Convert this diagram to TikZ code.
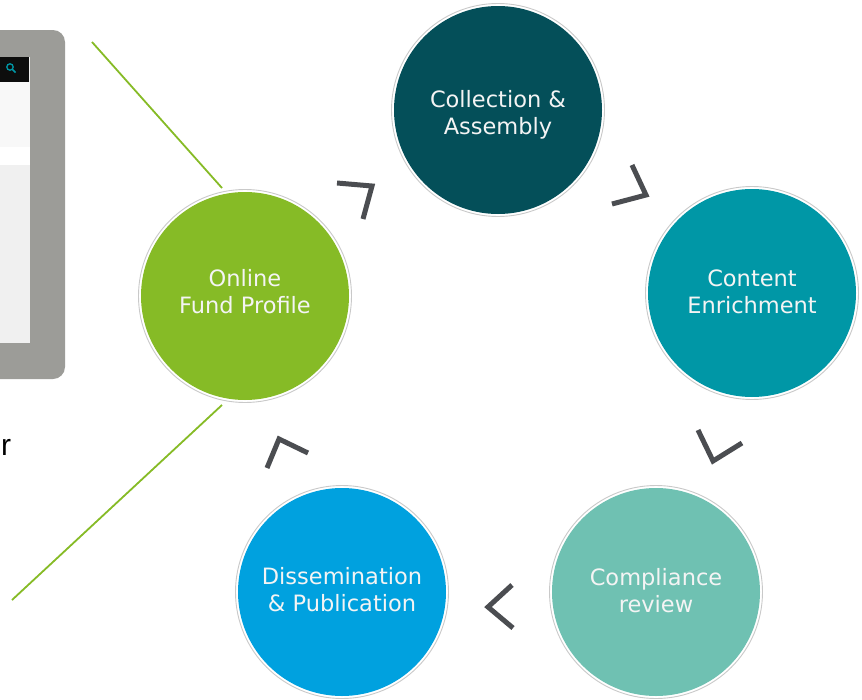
\documentclass[tikz,border=0pt]{standalone}
\usepackage{fontspec}
\newfontfamily\dv{DejaVu Sans}
\newfontfamily\lib{Liberation Sans}
\definecolor{cColl}{HTML}{044F59}
\definecolor{cEnr}{HTML}{0097A6}
\definecolor{cComp}{HTML}{6FC1B2}
\definecolor{cDis}{HTML}{00A1DF}
\definecolor{cOfp}{HTML}{86BB26}
\definecolor{cChev}{HTML}{4B4D51}
\definecolor{cTab}{HTML}{9C9C98}
\definecolor{cScr}{HTML}{F0F0F0}
\definecolor{cScrTop}{HTML}{F8F8F8}
\definecolor{cRing}{HTML}{C9C9C9}
\definecolor{cTxt}{HTML}{F4F4F4}
\tikzset{
  stage/.style={circle, minimum size=208pt, inner sep=0pt},
  stagetext/.style={inner sep=0pt, align=center, text=cTxt,
    font=\dv\fontsize{22.5}{27}\selectfont},
  ring/.style={draw=cRing, line width=0.9pt},
  chev/.style={draw=cChev, line width=5pt, line cap=butt, line join=miter},
  zoomline/.style={draw=cOfp, line width=1.8pt}
}
\begin{document}
\begin{tikzpicture}[x=1pt,y=-1pt]
\useasboundingbox (0,0) rectangle (862,699);
\fill[white] (0,0) rectangle (862,699);
% tablet
\fill[cTab, rounded corners=12pt] (-30,30) rectangle (65,379);
\fill[cScr] (-10,57) rectangle (30,343);
\fill[cScrTop] (-10,82) rectangle (30,147);
\fill[black!95] (-10,57) rectangle (29,82);
\fill[white] (-10,147) rectangle (30,165);
\draw[cEnr, line width=1.3pt] (10,67) circle (3.2pt);
\draw[cEnr, line width=1.6pt] (12.5,69.5) -- (15.5,72.5);
% partial text
\node[anchor=base west, inner sep=0pt, font=\lib\fontsize{30}{36}\selectfont] (rtxt) at (1,455) {r};
% circles
\node[stage, fill=cColl] (coll) at (498,110) {};
\node[stage, fill=cEnr] (enr) at (752,293) {};
\node[stage, fill=cComp] (comp) at (656,592) {};
\node[stage, fill=cDis] (dis) at (342,592) {};
\node[stage, fill=cOfp] (ofp) at (245,296) {};
\foreach \n in {coll,enr,comp,dis,ofp}
  \draw[ring] (\n.center) circle (106.5pt);
\node[stagetext] (collT) at (498,115) {Collection \&\\Assembly};
\node[stagetext] (enrT) at (752,292) {Content\\Enrichment};
\node[stagetext] (compT) at (656,591) {Compliance\\review};
\node[stagetext] (disT) at (342,590) {Dissemination\\\& Publication};
\node[stagetext] (ofpT) at (245,292) {Online\\Fund Profile};
% zoom lines
\coordinate (za) at (92,42);
\coordinate (zb) at (12,600);
\coordinate (ofpTop) at (222,188);
\coordinate (ofpBot) at (222,405);
\draw[zoomline] (za) -- (ofpTop);
\draw[zoomline] (zb) -- (ofpBot);
% chevrons
\draw[chev] (337,183) -- (372,186) -- (363,219);
\draw[chev] (632,165) -- (646,195) -- (612,204);
\draw[chev] (698,430) -- (713,461) -- (742,443);
\draw[chev] (512,585) -- (488,607) -- (513,628);
\draw[chev] (267,468) -- (279,439) -- (308,453);
\end{tikzpicture}
\end{document}
